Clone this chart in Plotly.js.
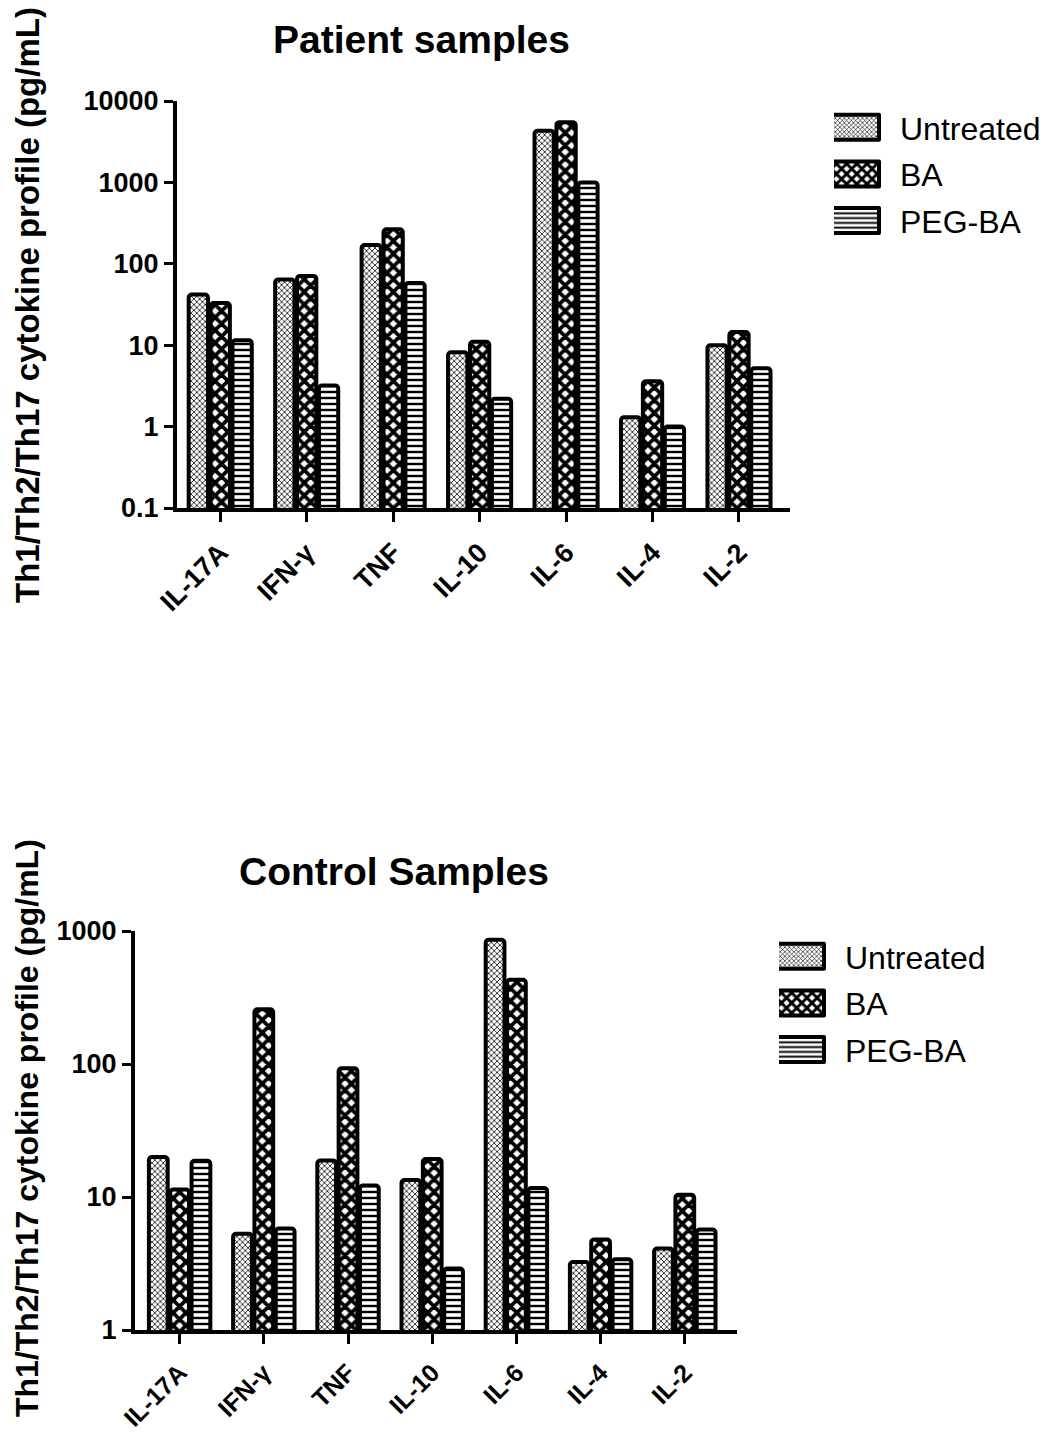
<!DOCTYPE html>
<html>
<head>
<meta charset="utf-8">
<script src="https://cdn.plot.ly/plotly-3.0.1.min.js"></script>
<style>html,body{margin:0;padding:0;background:#fff;}#chart{width:1047px;height:1437px;}</style>
</head>
<body>
<div id="chart"></div>
<script>
// ---- data ----
const categories = ["IL-17A", "IFN-γ", "TNF", "IL-10", "IL-6", "IL-4", "IL-2"];
const seriesNames = ["Untreated", "BA", "PEG-BA"];

const patientUntreated = [42, 64, 170, 8.2, 4300, 1.3, 10];
const patientBA        = [33, 71, 265, 11, 5500, 3.6, 14.5];
const patientPEGBA     = [11.5, 3.2, 58, 2.2, 1000, 1.0, 5.2];

const controlUntreated = [20, 5.3, 18.8, 13.4, 860, 3.25, 4.1];
const controlBA        = [11.4, 258, 93, 19.3, 430, 4.8, 10.4];
const controlPEGBA     = [18.7, 5.8, 12.2, 2.9, 11.7, 3.4, 5.7];

const patientTickVals = [0.1, 1, 10, 100, 1000, 10000];
const patientTickText = ["0.1", "1", "10", "100", "1000", "10000"];
const controlTickVals = [1, 10, 100, 1000];
const controlTickText = ["1", "10", "100", "1000"];

const patientTitle = "Patient samples";
const controlTitle = "Control Samples";
const yTitle = "Th1/Th2/Th17 cytokine profile (pg/mL)";

// ---- styles ----
const FONT = "Arial, 'Liberation Sans', sans-serif";
const W = 1047, H = 1437;
const patterns = [
  {shape: "x", size: 4, solidity: 0.35, fgcolor: "#000", bgcolor: "#fff"},
  {shape: "x", size: 9, solidity: 0.65, fgcolor: "#000", bgcolor: "#fff"},
  {shape: "-", size: 6, solidity: 0.4, fgcolor: "#000", bgcolor: "#fff"}
];
const groups = ["u", "b", "p"];

function mk(vals, i, xa, ya, legend) {
  return {
    type: "bar", x: categories, y: vals, name: seriesNames[i],
    xaxis: xa, yaxis: ya, legend: legend, legendgroup: legend + groups[i],
    marker: {color: "#fff", pattern: patterns[i], line: {color: "#000", width: 4}},
    hoverinfo: "x+y+name"
  };
}

const data = [
  mk(patientUntreated, 0, "x", "y", "legend"),
  mk(patientBA, 1, "x", "y", "legend"),
  mk(patientPEGBA, 2, "x", "y", "legend"),
  mk(controlUntreated, 0, "x2", "y2", "legend2"),
  mk(controlBA, 1, "x2", "y2", "legend2"),
  mk(controlPEGBA, 2, "x2", "y2", "legend2")
];

function xax(domain, range, anchor, fs) {
  return {
    domain: domain, range: range, anchor: anchor, type: "category",
    showline: true, linewidth: 4, linecolor: "#000", mirror: false,
    ticks: "outside", ticklen: 10, tickwidth: 3, tickcolor: "#000",
    tickangle: -45, showgrid: false, zeroline: false, automargin: false,
    ticklabelstandoff: 4,
    tickfont: {family: FONT, size: fs, color: "#000", weight: "bold"}
  };
}
function yax(domain, range, anchor, tv, tt) {
  return {
    domain: domain, range: range, anchor: anchor, type: "log",
    tickvals: tv, ticktext: tt,
    showline: true, linewidth: 4, linecolor: "#000",
    ticks: "outside", ticklen: 9, tickwidth: 3, tickcolor: "#000",
    showgrid: false, zeroline: false, automargin: false,
    tickfont: {family: FONT, size: 27, color: "#000", weight: "bold"}
  };
}

function leg(x, y) {
  return {
    x: x / W, y: 1 - y / H, xanchor: "left", yanchor: "top",
    font: {family: FONT, size: 32, color: "#000"}, itemwidth: 56,
    bgcolor: "rgba(0,0,0,0)", tracegroupgap: 2, traceorder: "grouped"
  };
}

const layout = {
  width: W, height: H,
  margin: {l: 0, r: 0, t: 0, b: 0},
  paper_bgcolor: "#fff", plot_bgcolor: "#fff",
  font: {family: FONT, color: "#000"},
  barmode: "group", bargap: 0.24, bargroupgap: 0.12, barcornerradius: 3,
  showlegend: true,
  xaxis: xax([177 / W, 790 / W], [-0.5, 6.59], "y", 27),
  yaxis: yax([1 - 508 / H, 1 - 101 / H], [-1, 4], "x", patientTickVals, patientTickText),
  xaxis2: xax([135 / W, 737 / W], [-0.53, 6.62], "y2", 25),
  yaxis2: yax([1 - 1330 / H, 1 - 931 / H], [0, 3], "x2", controlTickVals, controlTickText),
  legend: leg(834, 100),
  legend2: leg(779, 929),
  annotations: [
    {text: "<b>" + patientTitle + "</b>", xref: "paper", yref: "paper", x: 421 / W, y: 1 - 40 / H,
     showarrow: false, font: {family: FONT, size: 39, color: "#000"}, xanchor: "center", yanchor: "middle"},
    {text: "<b>" + controlTitle + "</b>", xref: "paper", yref: "paper", x: 394 / W, y: 1 - 872 / H,
     showarrow: false, font: {family: FONT, size: 39, color: "#000"}, xanchor: "center", yanchor: "middle"},
    {text: "<b>" + yTitle + "</b>", xref: "paper", yref: "paper", x: 27 / W, y: 1 - 305 / H, textangle: -90,
     showarrow: false, font: {family: FONT, size: 33, color: "#000"}, xanchor: "center", yanchor: "middle"},
    {text: "<b>" + yTitle + "</b>", xref: "paper", yref: "paper", x: 27 / W, y: 1 - 1128 / H, textangle: -90,
     showarrow: false, font: {family: FONT, size: 32, color: "#000"}, xanchor: "center", yanchor: "middle"}
  ]
};

function widenSwatches() {
  // enlarge the legend swatches to match the original's wide rectangles
  document.querySelectorAll("#chart g.legendpoints path").forEach(function (p) {
    p.setAttribute("d", "M-36,-12.5H12V12.5H-36Z");
    p.setAttribute("stroke-width", "4");
    p.style.strokeWidth = "4px";
    p.style.strokeLinejoin = "round";
  });
}

Plotly.newPlot("chart", data, layout, {displayModeBar: false, staticPlot: true}).then(function () {
  widenSwatches();
  setTimeout(widenSwatches, 50);
  setTimeout(widenSwatches, 300);
});
</script>
</body>
</html>
